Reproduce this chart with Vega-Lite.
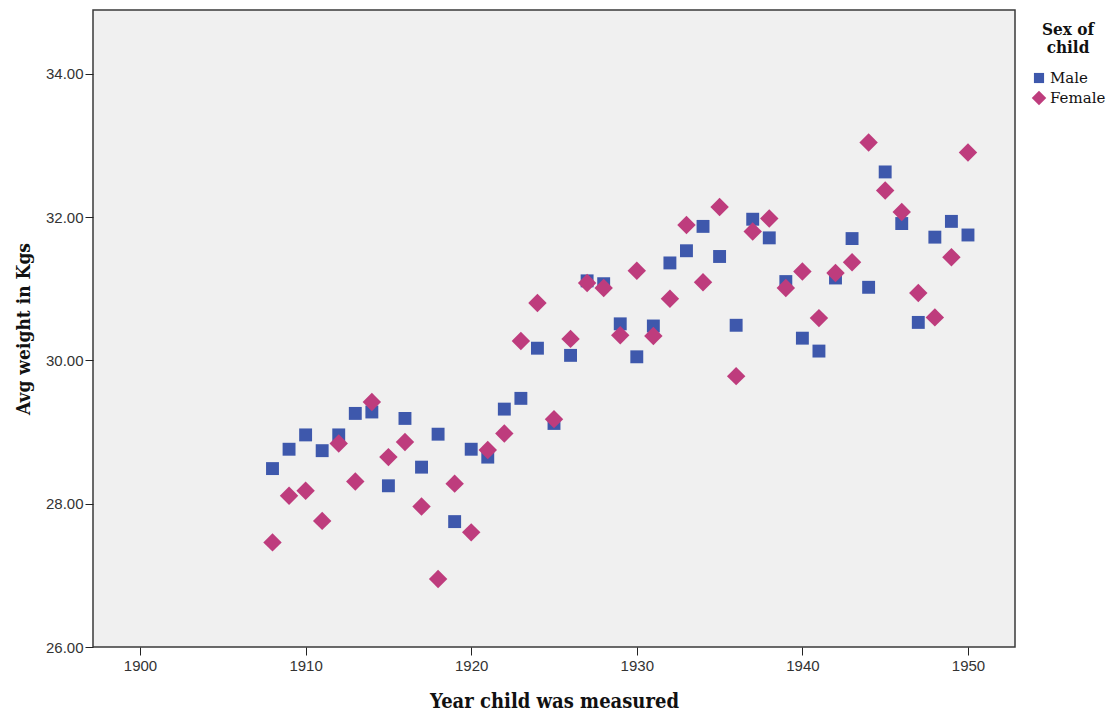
{
  "$schema": "https://vega.github.io/schema/vega-lite/v6.json",
  "width": 922,
  "height": 637,
  "autosize": "none",
  "padding": {"left": 93, "top": 10, "right": 101, "bottom": 66},
  "background": "white",
  "config": {
    "view": {"fill": "#F0F0F0", "stroke": "#3a3a3a", "strokeWidth": 1.5},
    "axis": {
      "grid": false,
      "domain": false,
      "ticks": true,
      "tickColor": "#222222",
      "tickSize": 8,
      "labelFont": "Liberation Sans",
      "labelFontSize": 15,
      "labelColor": "#333333",
      "titleFont": "DejaVu Serif Condensed, DejaVu Serif",
      "titleFontWeight": "bold",
      "titleColor": "#111111"
    },
    "legend": {
      "titleFont": "DejaVu Serif Condensed, DejaVu Serif",
      "titleFontWeight": "bold",
      "titleFontSize": 17,
      "titleColor": "#111111",
      "labelFont": "DejaVu Serif",
      "labelFontSize": 15,
      "labelColor": "#111111",
      "padding": 0
    }
  },
  "data": {
    "values": [
      {"year": 1908, "sex": "Male", "weight": 28.49},
      {"year": 1909, "sex": "Male", "weight": 28.76},
      {"year": 1910, "sex": "Male", "weight": 28.96},
      {"year": 1911, "sex": "Male", "weight": 28.74},
      {"year": 1912, "sex": "Male", "weight": 28.96},
      {"year": 1913, "sex": "Male", "weight": 29.26},
      {"year": 1914, "sex": "Male", "weight": 29.28},
      {"year": 1915, "sex": "Male", "weight": 28.25},
      {"year": 1916, "sex": "Male", "weight": 29.19},
      {"year": 1917, "sex": "Male", "weight": 28.51},
      {"year": 1918, "sex": "Male", "weight": 28.97},
      {"year": 1919, "sex": "Male", "weight": 27.75},
      {"year": 1920, "sex": "Male", "weight": 28.76},
      {"year": 1921, "sex": "Male", "weight": 28.65},
      {"year": 1922, "sex": "Male", "weight": 29.32},
      {"year": 1923, "sex": "Male", "weight": 29.47},
      {"year": 1924, "sex": "Male", "weight": 30.17},
      {"year": 1925, "sex": "Male", "weight": 29.12},
      {"year": 1926, "sex": "Male", "weight": 30.07},
      {"year": 1927, "sex": "Male", "weight": 31.11},
      {"year": 1928, "sex": "Male", "weight": 31.07},
      {"year": 1929, "sex": "Male", "weight": 30.51},
      {"year": 1930, "sex": "Male", "weight": 30.05},
      {"year": 1931, "sex": "Male", "weight": 30.48},
      {"year": 1932, "sex": "Male", "weight": 31.36},
      {"year": 1933, "sex": "Male", "weight": 31.53},
      {"year": 1934, "sex": "Male", "weight": 31.87},
      {"year": 1935, "sex": "Male", "weight": 31.45},
      {"year": 1936, "sex": "Male", "weight": 30.49},
      {"year": 1937, "sex": "Male", "weight": 31.97},
      {"year": 1938, "sex": "Male", "weight": 31.71},
      {"year": 1939, "sex": "Male", "weight": 31.10},
      {"year": 1940, "sex": "Male", "weight": 30.31},
      {"year": 1941, "sex": "Male", "weight": 30.13},
      {"year": 1942, "sex": "Male", "weight": 31.15},
      {"year": 1943, "sex": "Male", "weight": 31.70},
      {"year": 1944, "sex": "Male", "weight": 31.02},
      {"year": 1945, "sex": "Male", "weight": 32.63},
      {"year": 1946, "sex": "Male", "weight": 31.91},
      {"year": 1947, "sex": "Male", "weight": 30.53},
      {"year": 1948, "sex": "Male", "weight": 31.72},
      {"year": 1949, "sex": "Male", "weight": 31.94},
      {"year": 1950, "sex": "Male", "weight": 31.75},
      {"year": 1908, "sex": "Female", "weight": 27.46},
      {"year": 1909, "sex": "Female", "weight": 28.11},
      {"year": 1910, "sex": "Female", "weight": 28.18},
      {"year": 1911, "sex": "Female", "weight": 27.76},
      {"year": 1912, "sex": "Female", "weight": 28.84},
      {"year": 1913, "sex": "Female", "weight": 28.31},
      {"year": 1914, "sex": "Female", "weight": 29.42},
      {"year": 1915, "sex": "Female", "weight": 28.65},
      {"year": 1916, "sex": "Female", "weight": 28.86},
      {"year": 1917, "sex": "Female", "weight": 27.96},
      {"year": 1918, "sex": "Female", "weight": 26.95},
      {"year": 1919, "sex": "Female", "weight": 28.28},
      {"year": 1920, "sex": "Female", "weight": 27.60},
      {"year": 1921, "sex": "Female", "weight": 28.75},
      {"year": 1922, "sex": "Female", "weight": 28.98},
      {"year": 1923, "sex": "Female", "weight": 30.27},
      {"year": 1924, "sex": "Female", "weight": 30.80},
      {"year": 1925, "sex": "Female", "weight": 29.18},
      {"year": 1926, "sex": "Female", "weight": 30.30},
      {"year": 1927, "sex": "Female", "weight": 31.08},
      {"year": 1928, "sex": "Female", "weight": 31.01},
      {"year": 1929, "sex": "Female", "weight": 30.35},
      {"year": 1930, "sex": "Female", "weight": 31.25},
      {"year": 1931, "sex": "Female", "weight": 30.34},
      {"year": 1932, "sex": "Female", "weight": 30.86},
      {"year": 1933, "sex": "Female", "weight": 31.89},
      {"year": 1934, "sex": "Female", "weight": 31.09},
      {"year": 1935, "sex": "Female", "weight": 32.14},
      {"year": 1936, "sex": "Female", "weight": 29.78},
      {"year": 1937, "sex": "Female", "weight": 31.80},
      {"year": 1938, "sex": "Female", "weight": 31.98},
      {"year": 1939, "sex": "Female", "weight": 31.01},
      {"year": 1940, "sex": "Female", "weight": 31.24},
      {"year": 1941, "sex": "Female", "weight": 30.59},
      {"year": 1942, "sex": "Female", "weight": 31.22},
      {"year": 1943, "sex": "Female", "weight": 31.37},
      {"year": 1944, "sex": "Female", "weight": 33.04},
      {"year": 1945, "sex": "Female", "weight": 32.37},
      {"year": 1946, "sex": "Female", "weight": 32.07},
      {"year": 1947, "sex": "Female", "weight": 30.94},
      {"year": 1948, "sex": "Female", "weight": 30.60},
      {"year": 1949, "sex": "Female", "weight": 31.44},
      {"year": 1950, "sex": "Female", "weight": 32.90}
    ]
  },
  "mark": {"type": "point", "filled": true, "opacity": 1, "size": 340},
  "encoding": {
    "x": {
      "field": "year",
      "type": "quantitative",
      "title": "Year child was measured",
      "scale": {"domain": [1897.16, 1952.84], "nice": false, "zero": false},
      "axis": {"values": [1900, 1910, 1920, 1930, 1940, 1950], "format": "d", "labelPadding": 3, "titlePadding": 18, "titleFontSize": 20}
    },
    "y": {
      "field": "weight",
      "type": "quantitative",
      "title": "Avg weight in Kgs",
      "scale": {"domain": [26, 34.89], "nice": false, "zero": false},
      "axis": {"values": [26, 28, 30, 32, 34], "format": ".2f", "labelPadding": 2, "titlePadding": 12, "titleFontSize": 19}
    },
    "color": {
      "field": "sex",
      "type": "nominal",
      "scale": {"domain": ["Male", "Female"], "range": ["#3E58AC", "#BE3C7D"]},
      "legend": {
        "title": ["Sex of", "child"],
        "orient": "none",
        "legendX": 938,
        "legendY": 12,
        "titleAnchor": "middle",
        "titleAlign": "center",
        "titleLineHeight": 18,
        "titlePadding": 13,
        "symbolSize": 210,
        "rowPadding": 4,
        "labelOffset": 3
      }
    },
    "shape": {
      "field": "sex",
      "type": "nominal",
      "scale": {"domain": ["Male", "Female"], "range": ["M-0.7,-0.7H0.7V0.7H-0.7Z", "M-1,0L0,-1L1,0L0,1Z"]}
    },
    "order": {"field": "sex", "sort": "descending"}
  }
}
